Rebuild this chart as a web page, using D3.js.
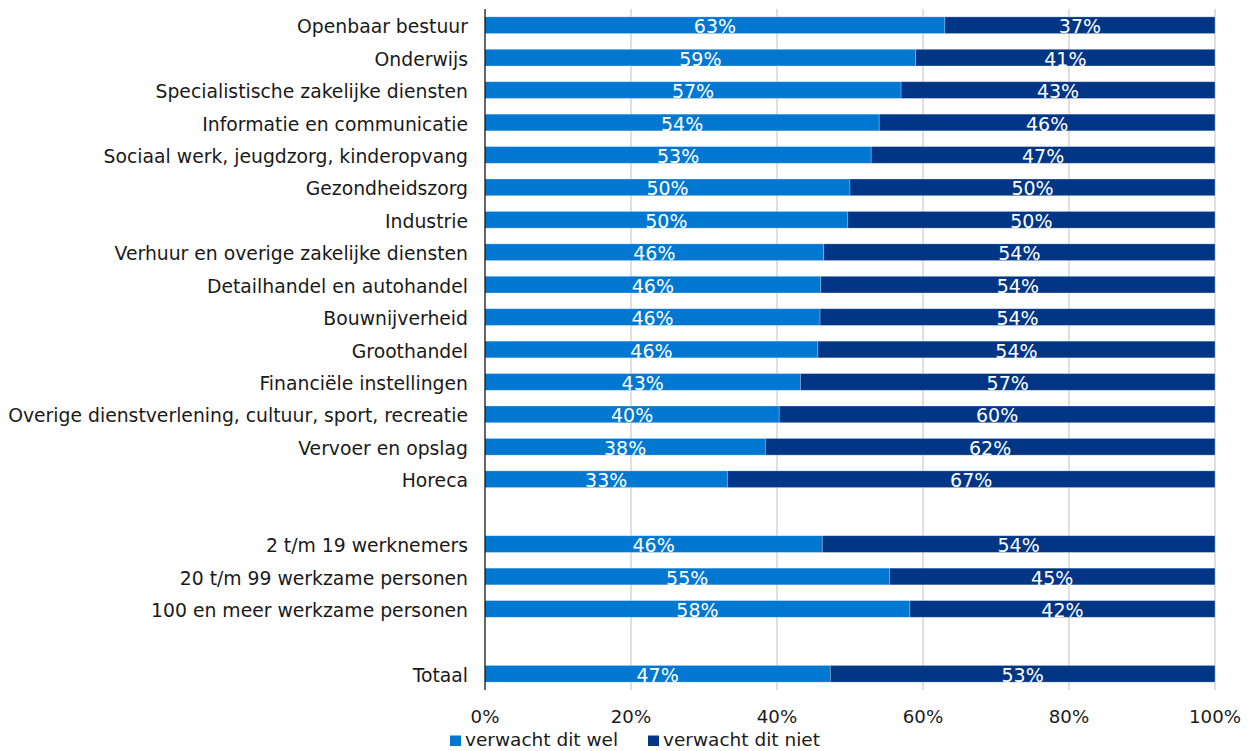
<!DOCTYPE html>
<html><head><meta charset="utf-8">
<script src="https://cdn.jsdelivr.net/npm/d3@7"></script>
<style>body{margin:0;background:#fff}svg text{font-family:"DejaVu Sans",Verdana,sans-serif}</style>
</head><body><svg id="c" width="1250" height="751"></svg>
<script>
const categories = ["Openbaar bestuur","Onderwijs","Specialistische zakelijke diensten","Informatie en communicatie","Sociaal werk, jeugdzorg, kinderopvang","Gezondheidszorg","Industrie","Verhuur en overige zakelijke diensten","Detailhandel en autohandel","Bouwnijverheid","Groothandel","Financiële instellingen","Overige dienstverlening, cultuur, sport, recreatie","Vervoer en opslag","Horeca","","2 t/m 19 werknemers","20 t/m 99 werkzame personen","100 en meer werkzame personen","","Totaal"];
const welValues = [63.0,59.0,57.0,54.0,52.9,50.0,49.7,46.4,46.0,45.9,45.6,43.2,40.3,38.4,33.2,null,46.2,55.4,58.2,null,47.3];
const nietValues = welValues.map(v => v == null ? null : 100 - v);
const seriesNames = ["verwacht dit wel","verwacht dit niet"];
const colors = ["#0077d1","#003685"];
const xTicks = [0,20,40,60,80,100];

(function(){
const svg = d3.select("#c");
const pL = 485, pR = 1215, pT = 9, pB = 690;
const x = d3.scaleLinear().domain([0,100]).range([pL,pR]);
const y = d3.scaleBand().domain(d3.range(categories.length)).range([pT,pB]).paddingInner(0.485).paddingOuter(0.2425);

svg.append("g").selectAll("line").data(xTicks.slice(1)).join("line")
  .attr("x1",d=>x(d)).attr("x2",d=>x(d)).attr("y1",pT).attr("y2",pB)
  .attr("stroke","#d4d4d4").attr("stroke-width",1.5);

const rows = categories.map((c,i)=>({i,c,wel:welValues[i],niet:nietValues[i]})).filter(d=>d.wel!=null);

const g = svg.append("g");
rows.forEach(d=>{
  const segs = [{s:0,v:d.wel,k:0},{s:d.wel,v:d.niet,k:1}];
  segs.forEach(s=>{
    g.append("rect").attr("x",x(s.s)).attr("y",y(d.i)).attr("width",x(s.s+s.v)-x(s.s)).attr("height",y.bandwidth())
      .attr("fill",colors[s.k]).attr("stroke","rgba(255,255,255,0.35)").attr("stroke-width",0.75);
    g.append("text").attr("x",(x(s.s)+x(s.s+s.v))/2).attr("y",y(d.i)+y.bandwidth()/2+8)
      .attr("text-anchor","middle").attr("fill","#fff").attr("font-size",19).text(Math.round(s.v)+"%");
  });
});

svg.append("line").attr("x1",pL).attr("x2",pL).attr("y1",pT).attr("y2",pB).attr("stroke","#000").attr("stroke-width",1.2);

svg.append("g").selectAll("text").data(categories.map((c,i)=>({c,i}))).join("text")
  .attr("x",pL-17).attr("y",d=>y(d.i)+y.bandwidth()/2+8).attr("text-anchor","end")
  .attr("font-size",18.8).attr("fill","#1a1a1a").text(d=>d.c);

svg.append("g").selectAll("text").data(xTicks).join("text")
  .attr("x",d=>x(d)).attr("y",723).attr("text-anchor","middle").attr("font-size",18.2).attr("fill","#1a1a1a").text(d=>d+"%");

const leg = svg.append("g");
const legX = [450,648];
seriesNames.forEach((n,i)=>{
  leg.append("rect").attr("x",legX[i]).attr("y",735.5).attr("width",11).attr("height",10.5).attr("fill",colors[i]);
  leg.append("text").attr("x",legX[i]+15).attr("y",746).attr("font-size",18.5).attr("fill","#1a1a1a").text(n);
});
})();
</script></body></html>
